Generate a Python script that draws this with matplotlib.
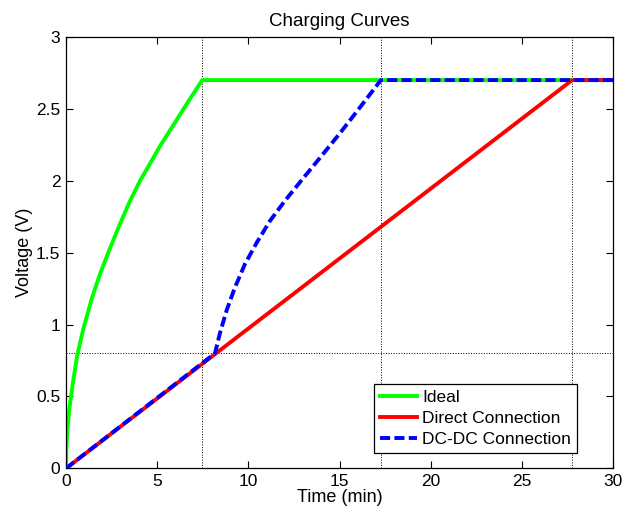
import matplotlib.pyplot as plt

plt.rcParams['font.family'] = ['Liberation Sans', 'DejaVu Sans']

# Ideal charging curve (min, V)
ideal_time = [0, 0.02, 0.07, 0.18, 0.37, 0.62, 0.95, 1.41, 1.86, 2.41, 2.96, 3.51, 4.06,
              4.61, 5.15, 5.70, 6.25, 6.80, 7.47, 30]
ideal_volt = [0, 0.14, 0.26, 0.41, 0.59, 0.79, 0.97, 1.18, 1.35, 1.53, 1.70, 1.86, 2.0,
              2.12, 2.24, 2.35, 2.46, 2.57, 2.70, 2.70]

# Direct connection
direct_time = [0, 27.76, 30]
direct_volt = [0, 2.70, 2.70]

# DC-DC connection
dcdc_time = [0, 8.17, 8.44, 8.81, 9.27, 9.81, 10.46, 11.18, 12.0, 12.83, 13.93, 15.02,
             16.12, 17.27, 30]
dcdc_volt = [0, 0.80, 0.94, 1.10, 1.26, 1.42, 1.57, 1.72, 1.86, 1.99, 2.16, 2.33,
             2.51, 2.70, 2.70]

# reference markers
vlines_t = [7.47, 17.27, 27.76]
hline_v = 0.8

fig = plt.figure(figsize=(6.23, 5.13), dpi=100)
ax = fig.add_axes([0.106, 0.087, 0.878, 0.841])

for t in vlines_t:
    ax.axvline(t, color='black', linestyle=':', linewidth=0.7, zorder=1)
ax.axhline(hline_v, color='black', linestyle=':', linewidth=0.7, zorder=1)

ax.plot(ideal_time, ideal_volt, color='#00ff00', linewidth=2.8, label='Ideal', zorder=2)
ax.plot(direct_time, direct_volt, color='#ff0000', linewidth=2.8, label='Direct Connection', zorder=3)
ax.plot(dcdc_time, dcdc_volt, color='#0000ff', linewidth=2.8, linestyle=(0, (2.6, 1.1)),
        label='DC-DC Connection', zorder=4)

ax.set_xlim(0, 30)
ax.set_ylim(0, 3)
ax.set_xticks([0, 5, 10, 15, 20, 25, 30])
ax.set_yticks([0, 0.5, 1, 1.5, 2, 2.5, 3])
ax.set_yticklabels(['0', '0.5', '1', '1.5', '2', '2.5', '3'])
ax.tick_params(direction='in', top=True, right=True, length=5, width=0.8, labelsize=12.5, pad=4)
for s in ax.spines.values():
    s.set_linewidth(0.9)

ax.set_title('Charging Curves', fontsize=13.5, pad=8)
ax.set_xlabel('Time (min)', fontsize=13, labelpad=0)
ax.set_ylabel('Voltage (V)', fontsize=13, labelpad=2)

leg = ax.legend(loc='lower right', bbox_to_anchor=(0.934, 0.036), fontsize=12.5,
                fancybox=False, framealpha=1, edgecolor='black', handlelength=2.1,
                borderpad=0.35, labelspacing=0.32, handletextpad=0.3, borderaxespad=0)
leg.get_frame().set_linewidth(0.9)

fig.savefig('out.png', dpi=100)
